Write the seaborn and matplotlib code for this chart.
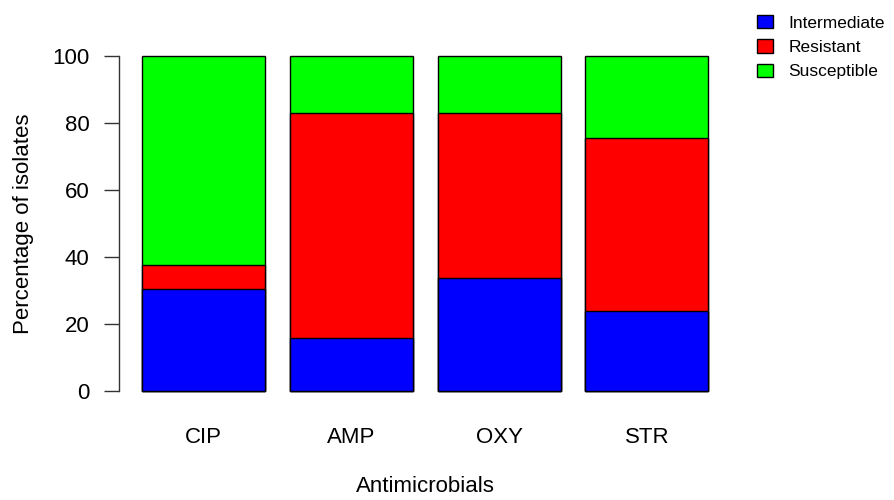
import numpy as np
import pandas as pd
import matplotlib
matplotlib.use('Agg')
import matplotlib.pyplot as plt
from matplotlib.patches import Patch
import seaborn as sns

# values (percent of isolates)
drugs = ['CIP', 'AMP', 'OXY', 'STR']
intermediate = [30.3, 15.7, 33.8, 24.0]
resistant = [7.3, 67.2, 49.1, 51.4]
susceptible = [62.4, 17.1, 17.1, 24.6]

categories = ['Intermediate', 'Resistant', 'Susceptible']
colors = ['#0000FF', '#FF0000', '#00FF00']

sns.set_style('white')
plt.rcParams['font.family'] = ['Liberation Sans', 'DejaVu Sans']
plt.rcParams['text.color'] = 'black'
plt.rcParams['axes.labelcolor'] = 'black'
plt.rcParams['xtick.color'] = 'black'
plt.rcParams['ytick.color'] = 'black'

df = pd.DataFrame({'drug': drugs, 'I': intermediate, 'R': resistant, 'S': susceptible})
df['top_I'] = df['I']
df['top_R'] = df['I'] + df['R']
df['top_S'] = df['I'] + df['R'] + df['S']

fig = plt.figure(figsize=(8.94, 5.0), dpi=100)
ax = fig.add_axes([119.4 / 894, 1 - 404.4 / 500, (731 - 119.4) / 894, (404.4 - 42.6) / 500])

# stacked bars: draw cumulative tops, largest first
for col, c in [('top_S', colors[2]), ('top_R', colors[1]), ('top_I', colors[0])]:
    sns.barplot(data=df, x='drug', y=col, color=c, saturation=1, width=1 / 1.2,
                edgecolor='black', linewidth=1.0, ax=ax, errorbar=None)

ax.set_xlim(-0.57, 3.57)
ax.set_ylim(-4, 104)
ax.set_yticks([0, 20, 40, 60, 80, 100])
for s in ['top', 'right', 'bottom']:
    ax.spines[s].set_visible(False)
ax.spines['left'].set_bounds(0, 100)
ax.spines['left'].set_color('#333333')
ax.spines['left'].set_linewidth(1.0)
ax.tick_params(axis='y', length=11, width=1.0, color='#333333', pad=10.5, labelsize=16, left=True)
ax.tick_params(axis='x', length=0, pad=16, labelsize=16)

ax.set_xlabel('Antimicrobials', fontsize=16)
ax.set_ylabel('Percentage of isolates', fontsize=16)
ax.xaxis.set_label_coords(0.5, -0.197)
ax.yaxis.set_label_coords(-0.14, 0.5)

handles = [Patch(facecolor=c, edgecolor='black', linewidth=1.0) for c in colors]
fig.legend(handles, categories, loc='upper left', bbox_to_anchor=(750 / 894, 1 - 8 / 500),
           frameon=False, fontsize=12.5, handlelength=0.9, handleheight=0.8,
           handletextpad=0.9, labelspacing=0.5, borderaxespad=0)

fig.savefig('out.png', dpi=100)
